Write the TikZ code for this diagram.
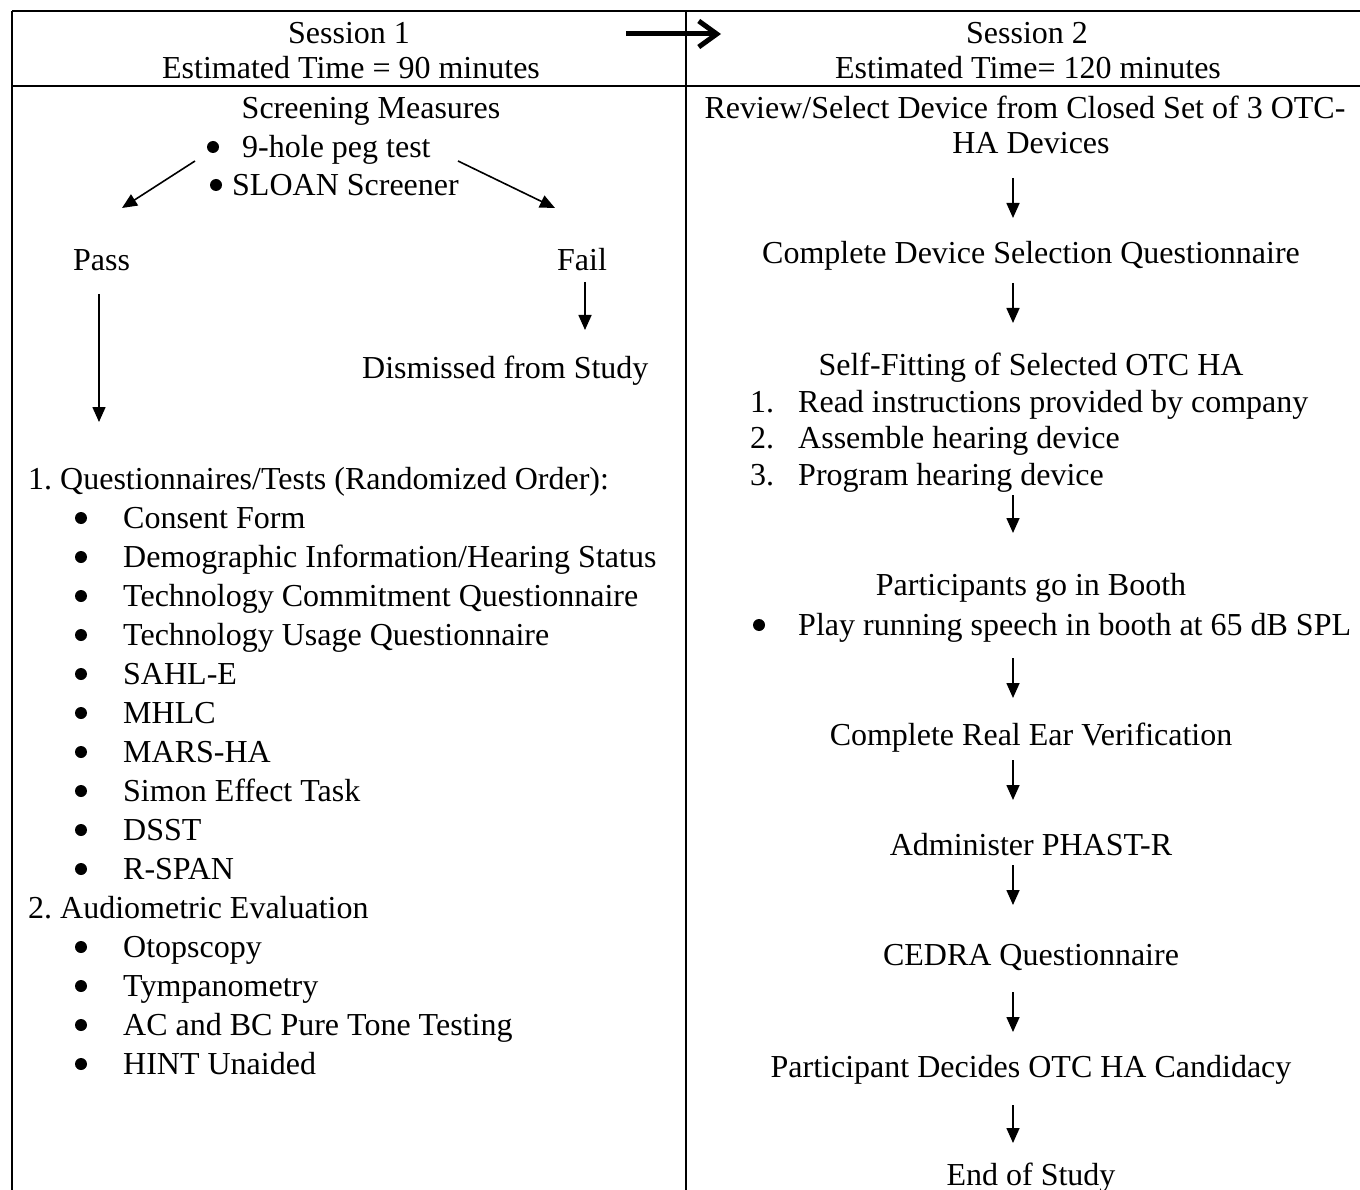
\documentclass[tikz,border=0pt]{standalone}
\usepackage{fontspec}
\setmainfont{Liberation Serif}
\usetikzlibrary{arrows.meta}
\begin{document}
\begin{tikzpicture}[x=1pt,y=-1pt,
  txt/.style={inner sep=0pt, yshift=-8pt, font=\fontsize{32}{39}\selectfont\frenchspacing},
  ctr/.style={txt, anchor=mid},
  lft/.style={txt, anchor=mid west},
  bul/.style={circle, fill=black, inner sep=0pt, minimum size=12pt},
  rule/.style={line width=2pt},
  arr/.style={line width=1.6pt, -{Triangle[length=15pt,width=13pt]}},
  headarr/.style={line width=5pt, -{Straight Barb[length=18pt,width=26pt,line width=5pt]}}
]
\useasboundingbox (0,0) rectangle (1360,1190);
% table rules
\draw[rule] (12,11) -- (1360,11);
\draw[rule] (12,86) -- (1360,86);
\draw[rule] (12,11) -- (12,1190);
\draw[rule] (686,11) -- (686,1190);
% header
\node[ctr] (s1) at (349,33) {Session 1};
\node[ctr] (e1) at (351,68) {Estimated Time = 90 minutes};
\node[ctr] (s2) at (1027,33) {Session 2};
\node[ctr] (e2) at (1028,68) {Estimated Time= 120 minutes};
\coordinate (h1) at (626,34);
\coordinate (h2) at (721,34);
\draw[headarr] (h1) -- (h2);
% left column: screening
\node[ctr] (sm) at (371,108) {Screening Measures};
\node[bul] (b1) at (213,147) {};
\node[lft] (peg) at (242,147) {9-hole peg test};
\node[bul] (b2) at (216,185) {};
\node[lft] (sloan) at (232,185) {SLOAN Screener};
\node[lft] (pass) at (73,260) {Pass};
\node[lft] (fail) at (557,260) {Fail};
\node[lft] (dis) at (362,368) {Dismissed from Study};
\coordinate (pa1) at (195,161);
\coordinate (pa2) at (122,208);
\coordinate (fa1) at (458,161);
\coordinate (fa2) at (555,208);
\coordinate (pv1) at (99,294);
\coordinate (pv2) at (99,422);
\coordinate (fv1) at (585,282);
\coordinate (fv2) at (585,330);
\draw[arr] (pa1) -- (pa2);
\draw[arr] (fa1) -- (fa2);
\draw[arr] (pv1) -- (pv2);
\draw[arr] (fv1) -- (fv2);
% left column: lists
\node[lft] (q1) at (28,479) {1. Questionnaires/Tests (Randomized Order):};
\foreach \t [count=\i from 0] in {Consent Form,Demographic Information/Hearing Status,Technology Commitment Questionnaire,Technology Usage Questionnaire,SAHL-E,MHLC,MARS-HA,Simon Effect Task,DSST,R-SPAN}{
  \node[bul] (qb\i) at (81,518+39*\i) {};
  \node[lft] (qt\i) at (123,518+39*\i) {\t};
}
\node[lft] (q2) at (28,908) {2. Audiometric Evaluation};
\foreach \t [count=\i from 0] in {Otopscopy,Tympanometry,AC and BC Pure Tone Testing,HINT Unaided}{
  \node[bul] (ab\i) at (81,947+39*\i) {};
  \node[lft] (at\i) at (123,947+39*\i) {\t};
}
% right column
\node[ctr] (rv1) at (1025,108) {Review/Select Device from Closed Set of 3 OTC-};
\node[ctr] (rv2) at (1031,143) {HA Devices};
\node[ctr] (cds) at (1031,253) {Complete Device Selection Questionnaire};
\node[ctr] (sf) at (1031,365) {Self-Fitting of Selected OTC HA};
\node[lft] (n1) at (750,402) {1.};
\node[lft] (t1) at (798,402) {Read instructions provided by company};
\node[lft] (n2) at (750,438) {2.};
\node[lft] (t2) at (798,438) {Assemble hearing device};
\node[lft] (n3) at (750,475) {3.};
\node[lft] (t3) at (798,475) {Program hearing device};
\node[ctr] (pb) at (1031,585) {Participants go in Booth};
\node[bul] (pbb) at (759,625) {};
\node[lft] (pbt) at (798,625) {Play running speech in booth at 65 dB SPL};
\node[ctr] (rev) at (1031,735) {Complete Real Ear Verification};
\node[ctr] (ph) at (1031,845) {Administer PHAST-R};
\node[ctr] (ce) at (1031,955) {CEDRA Questionnaire};
\node[ctr] (pd) at (1031,1067) {Participant Decides OTC HA Candidacy};
\node[ctr] (eos) at (1031,1175) {End of Study};
\foreach \a/\b [count=\i] in {178/218,283/323,495/533,658/698,760/800,865/905,992/1032,1105/1143}{
  \coordinate (ra\i) at (1013,\a);
  \coordinate (rb\i) at (1013,\b);
  \draw[arr] (ra\i) -- (rb\i);
}
\end{tikzpicture}
\end{document}
